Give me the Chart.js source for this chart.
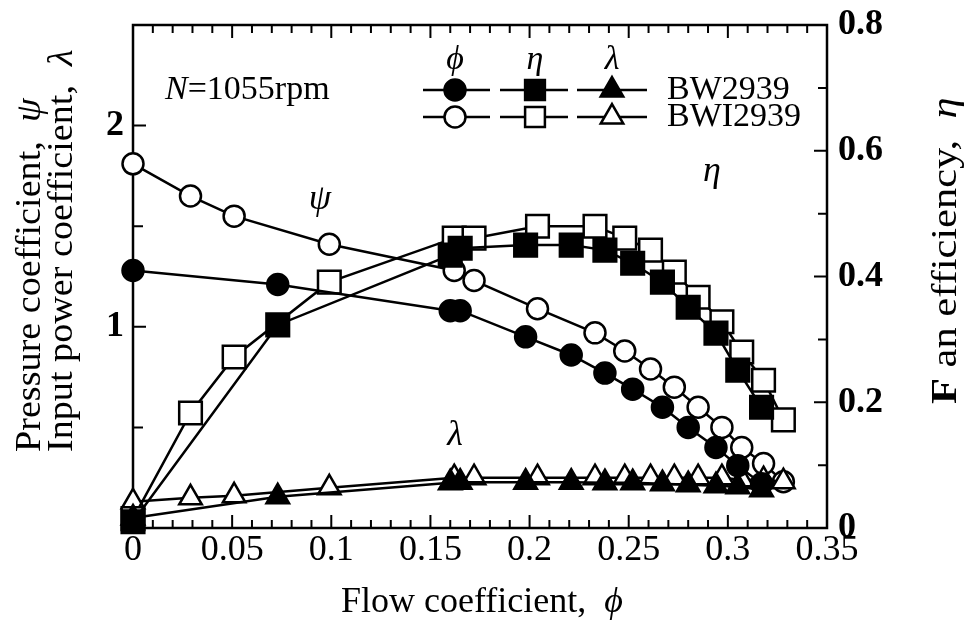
<!DOCTYPE html>
<html lang="en">
<head>
<meta charset="UTF-8">
<title>Fan characteristics BW2939 / BWI2939</title>
<script src="https://cdn.jsdelivr.net/npm/chart.js"></script>
<style>
  html, body { margin: 0; padding: 0; background: #fff; }
  #wrap { width: 975px; height: 623px; }
</style>
</head>
<body>
<div id="wrap"><canvas id="fan" width="975" height="623"></canvas></div>
<script>
// measured points at N = 1055 rpm
const phiBW  = [0, 0.073, 0.160, 0.165, 0.198, 0.221, 0.238, 0.252, 0.267, 0.280, 0.294, 0.305, 0.317];
const psiBW  = [1.28, 1.21, 1.08, 1.08, 0.95, 0.86, 0.77, 0.69, 0.60, 0.50, 0.40, 0.31, 0.22];
const etaBW  = [0.01, 0.323, 0.434, 0.445, 0.450, 0.450, 0.442, 0.421, 0.391, 0.351, 0.310, 0.251, 0.192];
const lamBW  = [0.05, 0.155, 0.225, 0.228, 0.228, 0.228, 0.225, 0.225, 0.22, 0.215, 0.21, 0.205, 0.19];

const phiBWI = [0, 0.029, 0.051, 0.099, 0.162, 0.172, 0.204, 0.233, 0.248, 0.261, 0.273, 0.285, 0.297, 0.307, 0.318, 0.328];
const psiBWI = [1.81, 1.65, 1.55, 1.41, 1.28, 1.23, 1.09, 0.97, 0.88, 0.79, 0.70, 0.60, 0.50, 0.40, 0.32, 0.23];
const etaBWI = [0.015, 0.183, 0.272, 0.391, 0.461, 0.461, 0.480, 0.480, 0.461, 0.442, 0.407, 0.367, 0.328, 0.280, 0.235, 0.172];
const lamBWI = [0.13, 0.15, 0.16, 0.20, 0.25, 0.25, 0.25, 0.25, 0.25, 0.25, 0.25, 0.25, 0.25, 0.24, 0.24, 0.23];

const fanNames = ['BW2939', 'BWI2939'];
const serif = '"Liberation Serif", "Times New Roman", serif';

function pts(xs, ys) {
  return xs.map((x, i) => ({ x: x, y: ys[i] }));
}

function series(label, xs, ys, axis, shape, filled, r) {
  return {
    label: label,
    data: pts(xs, ys),
    yAxisID: axis,
    borderColor: '#000',
    borderWidth: 2.5,
    pointStyle: shape,
    pointRadius: r,
    pointBorderWidth: 2.5,
    pointBorderColor: '#000',
    pointBackgroundColor: filled ? '#000' : '#fff',
    tension: 0,
    clip: false
  };
}

// write a run of text pieces, some of them italic; sx stretches along the baseline
function richText(ctx, parts, x, y, size, align, sx) {
  const fontOf = p => (p.italic ? 'italic ' : '') + (p.bold ? 'bold ' : '') + size + 'px ' + serif;
  sx = sx || 1;
  let total = 0;
  parts.forEach(p => { ctx.font = fontOf(p); total += ctx.measureText(p.t).width; });
  ctx.save();
  ctx.translate(x, y);
  ctx.scale(sx, 1);
  let cx = align === 'center' ? -total / 2 : 0;
  ctx.fillStyle = '#000';
  ctx.textAlign = 'left';
  ctx.textBaseline = 'middle';
  parts.forEach(p => {
    ctx.font = fontOf(p);
    ctx.fillText(p.t, cx, 0);
    cx += ctx.measureText(p.t).width;
  });
  ctx.restore();
}

function marker(ctx, shape, filled, x, y, r) {
  ctx.beginPath();
  if (shape === 'circle') {
    ctx.arc(x, y, r, 0, Math.PI * 2);
  } else if (shape === 'rect') {
    const s = r * Math.SQRT1_2;
    ctx.rect(x - s, y - s, 2 * s, 2 * s);
  } else {
    ctx.moveTo(x, y - r);
    ctx.lineTo(x + r * Math.sin(2 * Math.PI / 3), y + r / 2);
    ctx.lineTo(x - r * Math.sin(2 * Math.PI / 3), y + r / 2);
    ctx.closePath();
  }
  ctx.fillStyle = filled ? '#000' : '#fff';
  ctx.fill();
  ctx.stroke();
}

const framePlugin = {
  id: 'frame',
  beforeDatasetsDraw(chart) {
    const { ctx, chartArea: a, scales } = chart;
    ctx.save();
    ctx.strokeStyle = '#000';
    ctx.lineWidth = 2.5;
    ctx.strokeRect(a.left, a.top, a.right - a.left, a.bottom - a.top);
    ctx.lineWidth = 2;
    ctx.beginPath();
    // flow coefficient ticks every 0.01, top and bottom, pointing inward
    for (let i = 0; i <= 35; i++) {
      const px = scales.x.getPixelForValue(i / 100);
      const len = i % 5 === 0 ? 13 : 8;
      ctx.moveTo(px, a.bottom); ctx.lineTo(px, a.bottom - len);
      ctx.moveTo(px, a.top); ctx.lineTo(px, a.top + len);
    }
    for (let i = 1; i <= 4; i++) {
      const py = scales.y.getPixelForValue(i / 2);
      ctx.moveTo(a.left, py); ctx.lineTo(a.left + (i % 2 === 0 ? 13 : 10), py);
    }
    for (let i = 1; i <= 7; i++) {
      const py = scales.y2.getPixelForValue(i / 10);
      ctx.moveTo(a.right, py); ctx.lineTo(a.right - (i % 2 === 0 ? 13 : 9), py);
    }
    ctx.stroke();
    ctx.restore();
  },
  afterDraw(chart) {
    const { ctx } = chart;
    ctx.save();

    // axis titles
    richText(ctx, [{ t: 'Flow coefficient,  ' }, { t: 'ϕ', italic: true }], 482, 603, 36, 'center');

    ctx.save();
    ctx.translate(31, 452);
    ctx.rotate(-Math.PI / 2);
    richText(ctx, [{ t: 'Pressure coefficient,  ' }, { t: 'ψ', italic: true }], 0, 0, 36, 'left', 1.06);
    ctx.restore();
    ctx.save();
    ctx.translate(63, 452);
    ctx.rotate(-Math.PI / 2);
    richText(ctx, [{ t: 'Input power coefficient,  ' }, { t: 'λ', italic: true }], 0, 0, 36, 'left', 1.06);
    ctx.restore();
    ctx.save();
    ctx.translate(947, 404);
    ctx.rotate(-Math.PI / 2);
    richText(ctx, [{ t: 'F', bold: true }, { t: ' an efficiency,  ' }, { t: 'η', italic: true }], 0, 0, 36, 'left', 1.18);
    ctx.restore();

    // curve labels and speed
    richText(ctx, [{ t: 'N', italic: true }, { t: '=1055rpm' }], 165, 90, 34, 'left');
    richText(ctx, [{ t: 'ψ', italic: true }], 320, 200, 36, 'center');
    richText(ctx, [{ t: 'η', italic: true }], 712, 172, 36, 'center');
    richText(ctx, [{ t: 'λ', italic: true }], 455, 436, 36, 'center');

    // legend block
    const cols = [
      { head: 'ϕ', shape: 'circle', x0: 423, x1: 490, xm: 455, r: 10.5 },
      { head: 'η', shape: 'rect', x0: 500, x1: 568, xm: 535, r: 14 },
      { head: 'λ', shape: 'triangle', x0: 577, x1: 647, xm: 612, r: 13 }
    ];
    const rows = [90, 117];
    ctx.strokeStyle = '#000';
    ctx.lineWidth = 2.5;
    cols.forEach(c => {
      richText(ctx, [{ t: c.head, italic: true }], c.xm, 60, 34, 'center');
      rows.forEach((ry, k) => {
        ctx.beginPath();
        ctx.moveTo(c.x0, ry); ctx.lineTo(c.x1, ry);
        ctx.stroke();
        marker(ctx, c.shape, k === 0, c.xm, ry, c.r);
      });
    });
    rows.forEach((ry, k) => {
      richText(ctx, [{ t: fanNames[k] }], 667, ry, 34, 'left');
    });
    ctx.restore();
  }
};

const fmt = v => String(Number(v.toFixed(2)));

new Chart(document.getElementById('fan'), {
  type: 'line',
  data: {
    datasets: [
      series(fanNames[0] + ' η', phiBW, etaBW, 'y2', 'rect', true, 16),
      series(fanNames[0] + ' λ', phiBW, lamBW, 'y', 'triangle', true, 13),
      series(fanNames[0] + ' ψ', phiBW, psiBW, 'y', 'circle', true, 10.5),
      series(fanNames[1] + ' η', phiBWI, etaBWI, 'y2', 'rect', false, 16),
      series(fanNames[1] + ' λ', phiBWI, lamBWI, 'y', 'triangle', false, 13),
      series(fanNames[1] + ' ψ', phiBWI, psiBWI, 'y', 'circle', false, 10.5)
    ]
  },
  options: {
    responsive: false,
    animation: false,
    devicePixelRatio: 1,
    layout: { padding: { top: 25, left: 0, right: 0, bottom: 0 } },
    plugins: { legend: { display: false }, tooltip: { enabled: false } },
    scales: {
      x: {
        type: 'linear',
        min: 0, max: 0.35,
        afterFit: s => { s.height = 95; },
        grid: { display: false },
        border: { display: false },
        ticks: {
          stepSize: 0.05,
          padding: -7,
          maxRotation: 0,
          color: '#000',
          font: { family: serif, size: 36 },
          callback: v => fmt(v)
        }
      },
      y: {
        position: 'left',
        min: 0, max: 2.5,
        afterFit: s => { s.width = 133; },
        grid: { display: false },
        border: { display: false },
        ticks: {
          stepSize: 1,
          includeBounds: false,
          padding: 1,
          color: '#000',
          font: { family: serif, size: 36, weight: 'bold' },
          callback: v => (v === 0 ? '' : fmt(v))
        }
      },
      y2: {
        position: 'right',
        min: 0, max: 0.8,
        afterFit: s => { s.width = 148; },
        grid: { display: false },
        border: { display: false },
        ticks: {
          stepSize: 0.2,
          padding: 3,
          color: '#000',
          font: { family: serif, size: 36, weight: 'bold' },
          callback: v => fmt(v)
        }
      }
    }
  },
  plugins: [framePlugin]
});
</script>
</body>
</html>
